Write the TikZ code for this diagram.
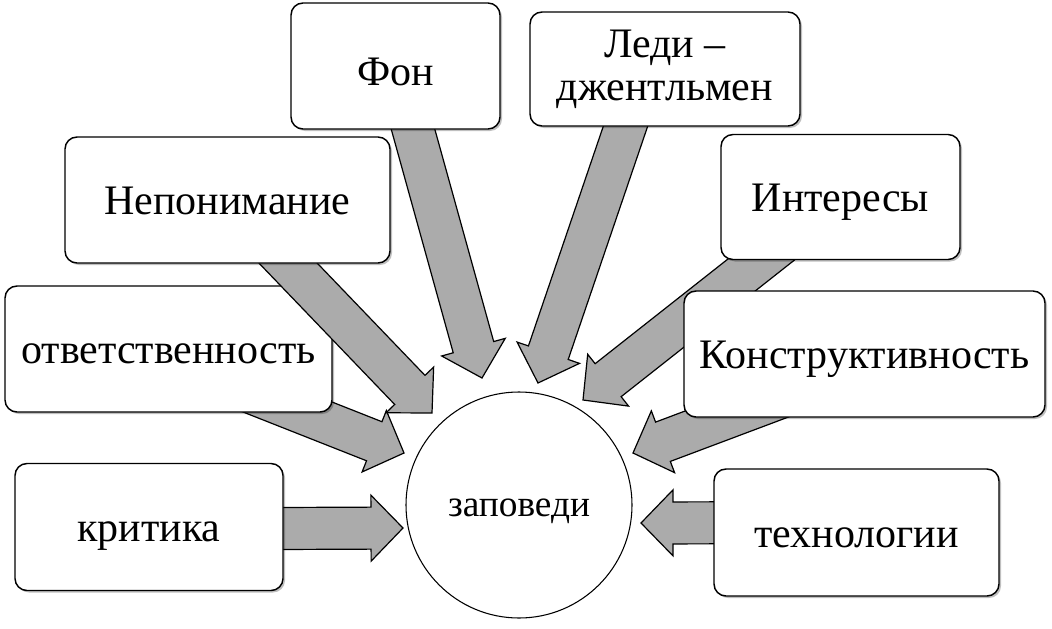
\documentclass[tikz,border=0pt]{standalone}
\usepackage{fontspec}
\setmainfont{Liberation Serif}
\usetikzlibrary{calc,shadows}
\pgfdeclarelayer{arrowlayer}
\pgfdeclarelayer{lowbox}
\pgfdeclarelayer{toparrow}
\pgfsetlayers{arrowlayer,lowbox,toparrow,main}

% block arrow from #1 (inside a box) to the tip #2
\newcommand{\blockarrow}[2]{%
  \coordinate (h) at ($(#2)!24pt!(#1)$);
  \filldraw[arr] ($(#1)!15.75pt!90:(#2)$) -- ($(h)!15.75pt!90:(#2)$) -- ($(h)!24.75pt!90:(#2)$) -- (#2)
    -- ($(h)!24.75pt!-90:(#2)$) -- ($(h)!15.75pt!-90:(#2)$) -- ($(#1)!15.75pt!-90:(#2)$) -- cycle;
}

\begin{document}
\begin{tikzpicture}[x=0.75pt, y=-0.75pt,
    box/.style={draw, line width=1.1pt, rounded corners=9pt, fill=white, align=center, inner sep=0pt,
      font=\fontsize{31.5}{32.5}\selectfont,
      drop shadow={shadow xshift=1.5pt, shadow yshift=-1.5pt, opacity=0.25, fill=black}},
    oneline/.style={text height=22pt, text depth=0pt},
    sz/.style 2 args={minimum width=#1*0.75pt, minimum height=#2*0.75pt},
    hub/.style={circle, draw, line width=0.8pt, fill=white, inner sep=0pt, minimum size=169.5pt,
      text height=17pt, text depth=0pt, font=\fontsize{28}{30}\selectfont},
    arr/.style={fill=black!33, draw=black, line width=0.9pt, line join=miter}]
  \useasboundingbox (0,0) rectangle (1052,628);

  \node[box, oneline, text height=29pt, sz={209}{126}] (fon) at (395.5,66) {Фон};
  \node[box, sz={270}{114}] (ledi) at (665,69) {Леди –\\джентльмен};
  \node[box, oneline, sz={325}{126}] (nep) at (227.5,200) {Непонимание};
  \node[box, oneline, sz={239}{125}] (int) at (840.5,197) {Интересы};
  \begin{pgfonlayer}{lowbox}
    \node[box, oneline, sz={327}{126}] (otv) at (168.5,349) {ответственность};
  \end{pgfonlayer}
  \node[box, oneline, sz={361}{126}] (kon) at (864.5,354) {Конструктивность};
  \node[box, oneline, sz={268}{127}] (krit) at (149,527) {критика};
  \node[box, oneline, sz={285}{127}] (tech) at (856.5,532.5) {технологии};
  \node[hub] (zap) at (519,505) {заповеди};

  \begin{pgfonlayer}{arrowlayer}
    \foreach \from/\dx/\dy/\tx/\ty in {fon/0/0/482/378, ledi/-20/0/538/383, int/0/0/583/400,
        kon/0/12/633/453, tech/0/-10/641/523, krit/0/2/403/528, otv/0/11/404/453} {
      \coordinate (\from-s) at ([shift={(\dx,\dy)}]\from.center);
      \coordinate (\from-tip) at (\tx,\ty);
      \blockarrow{\from-s}{\from-tip}
    }
  \end{pgfonlayer}
  \begin{pgfonlayer}{toparrow}
    \coordinate (nep-tip) at (432,413);
    \blockarrow{nep.center}{nep-tip}
  \end{pgfonlayer}
\end{tikzpicture}
\end{document}
